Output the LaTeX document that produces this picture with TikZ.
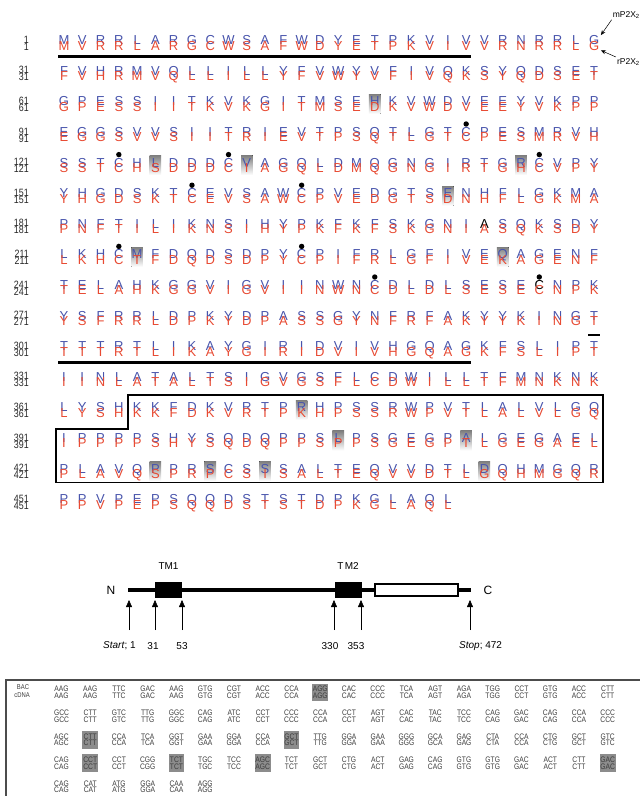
\documentclass[tikz,border=0pt]{standalone}
\usepackage{fontspec}
\setmainfont{Liberation Sans}
\newfontfamily\narrowsans[FakeStretch=0.84]{Liberation Sans}
\usetikzlibrary{arrows.meta}

\definecolor{mblue}{RGB}{72,84,172}
\definecolor{rred}{RGB}{232,74,50}
\definecolor{shade}{RGB}{172,172,172}
\definecolor{cdngray}{RGB}{60,60,60}

\tikzset{
  res/.style={inner sep=0pt, text height=9.3pt, text depth=0pt, font=\fontsize{13}{13}\selectfont},
  mres/.style={res, text=mblue},
  rres/.style={res, text=rred, yshift=-5.5pt},
  num/.style={inner sep=0pt, anchor=east, text height=7.6pt, text depth=0pt, text=black!85,
    font=\narrowsans\fontsize{10.6}{10.6}\selectfont},
  codon/.style={inner sep=0pt, text height=5.8pt, text depth=0pt, text=cdngray,
    font=\narrowsans\fontsize{8}{8}\selectfont},
  lab/.style={inner sep=1pt, font=\fontsize{8.5}{8.5}\selectfont},
  ptr/.style={-{Stealth[length=5pt,width=4pt]}, line width=0.5pt},
  uparrow/.style={-{Triangle[length=7pt,width=6pt]}, line width=0.5pt},
  tmbox/.style={fill=black, inner sep=0pt, minimum width=27pt, minimum height=16pt},
  dlab/.style={inner sep=1pt, font=\fontsize{10}{10}\selectfont}
}

\newcount\sqcol
\makeatletter
\newcommand\putseq[4]{%
  \sqcol=0
  \edef\sq@s{#4}%
  \expandafter\sq@run\expandafter{\sq@s}{#1}{#2}{#3}}
\newcommand\sq@run[4]{%
  \@tfor\sq@ch:=#1\do{%
    \advance\sqcol by 1
    \if\sq@ch.\else
      \node[#3] (#4#2-\the\sqcol) at ({colx(\the\sqcol)},{rowy(#2)}) {\sq@ch};%
    \fi}}
\makeatother

\def\seqdata{%
  0/MVRRLARGCWSAFWDYETPKVIVVRNRRLG/MVRRLARGCWSAFWDYETPKVIVVRNRRLG,
  1/FVHRMVQLLILLYFVWYVFIVQKSYQDSET/FVHRMVQLLILLYFVWYVFIVQKSYQDSET,
  2/GPESSIITKVKGITMSEHKVWDVEEYVKPP/GPESSIITKVKGITMSEDKVWDVEEYVKPP,
  3/EGGSVVSIITRIEVTPSQTLGTCPESMRVH/EGGSVVSIITRIEVTPSQTLGTCPESMRVH,
  4/SSTCHLDDDCVAGQLDMQGNGIRTGRCVPY/SSTCHSDDDCIAGQLDMQGNGIRTGHCVPY,
  5/YHGDSKTCEVSAWCPVEDGTSENHFLGKMA/YHGDSKTCEVSAWCPVEDGTSDNHFLGKMA,
  6/PNFTILIKNSIHYPKFKFSKGNI.SQKSDY/PNFTILIKNSIHYPKFKFSKGNIASQKSDY,
  7/LKHCMFDQDSDPYCPIFRLGFIVEQAGENF/LKHCTFDQDSDPYCPIFRLGFIVEKAGENF,
  8/TELAHKGGVIGVIINWNCDLDLSESE.NPK/TELAHKGGVIGVIINWNCDLDLSESECNPK,
  9/YSFRRLDPKYDPASSGYNFRFAKYYKINGT/YSFRRLDPKYDPASSGYNFRFAKYYKINGT,
  10/TTTRTLIKAYGIRIDVIVHGQAGKFSLIPT/TTTRTLIKAYGIRIDVIVHGQAGKFSLIPT,
  11/IINLATALTSIGVGSFLCDWILLTFMNKNK/IINLATALTSIGVGSFLCDWILLTFMNKNK,
  12/LYSHKKFDKVRTPRHPSSRWPVTLALVLGQ/LYSHKKFDKVRTPKHPSSRWPVTLALVLGQ,
  13/IPPPPSHYSQDQPPSLPSGEGPALGEGAEL/IPPPPSHYSQDQPPSPPSGEGPTLGEGAEL,
  14/PLAVQPPRSCSSSALTEQVVDTLDQHMGQR/PLAVQSPRPCSISALTEQVVDTLGQHMGQR,
  15/PPVPEPSQQDSTSTDPKGLAQL/PPVPEPSQQDSTSTDPKGLAQL}

\def\codondata{%
  0/{AAG,AAG,TTC,GAC,AAG,GTG,CGT,ACC,CCA,AGG,CAC,CCC,TCA,AGT,AGA,TGG,CCT,GTG,ACC,CTT},
  1/{GCC,CTT,GTC,TTG,GGC,CAG,ATC,CCT,CCC,CCA,CCT,AGT,CAC,TAC,TCC,CAG,GAC,CAG,CCA,CCC},
  2/{AGC,CTT,CCA,TCA,GGT,GAA,GGA,CCA,GCT,TTG,GGA,GAA,GGG,GCA,GAG,CTA,CCA,CTG,GCT,GTC},
  3/{CAG,CCT,CCT,CGG,TCT,TGC,TCC,AGC,TCT,GCT,CTG,ACT,GAG,CAG,GTG,GTG,GAC,ACT,CTT,GAC},
  4/{CAG,CAT,ATG,GGA,CAA,AGG}}

\begin{document}
\begin{tikzpicture}[x=1pt, y=-1pt,
  declare function={colx(\c)=64+18.28*(\c-1); rowy(\k)=40+30.6*\k;
                    cdx(\j)=61.5+28.75*(\j-1); cdy(\r)=689+23.6*\r;}]
\fill[white] (0,0) rectangle (640,796);
\useasboundingbox (0,0) rectangle (640,796);

\foreach \k/\c in {2/18,4/6,4/11,4/26,5/22,7/5,7/25,12/14,13/16,13/23,14/6,14/9,14/12,14/24}
  \fill[shade] ({colx(\c)-5.8},{rowy(\k)-7}) rectangle ++(11.6,19.6);

\foreach \k/\ms/\rs in \seqdata {\putseq{\k}{mres}{m}{\ms}}
\node[mres, text=black] (m6-24) at ({colx(24)},{rowy(6)}) {A};
\node[mres, text=black] (m8-27) at ({colx(27)},{rowy(8)}) {C};
\foreach \k/\ms/\rs in \seqdata {\putseq{\k}{rres}{r}{\rs}}

\foreach \k in {0,...,15} {
  \pgfmathtruncatemacro\n{30*\k+1}
  \node[num] (nm\k) at (29,{rowy(\k)-0.6}) {\n};
  \node[num] (nr\k) at (29,{rowy(\k)+6.4}) {\n};
}

\foreach \k/\c in {3/23,4/4,4/10,4/27,5/8,5/14,7/4,7/14,8/18,8/27}
  \fill ([yshift=7.8pt]m\k-\c.center) circle (2.7pt);

\draw[line width=3pt] ([xshift=-6pt,yshift=-6pt]r0-1.south) -- ([xshift=5pt,yshift=-6pt]r0-23.south);
\draw[line width=3pt] ([xshift=-6pt,yshift=-6pt]r10-1.south) -- ([xshift=5pt,yshift=-6pt]r10-23.south);
\draw[line width=2.5pt] ([xshift=-6pt,yshift=-9pt]r9-30.south) -- ([xshift=6pt,yshift=-9pt]r9-30.south);

\draw[line width=1.6pt] ({colx(4.5)},{rowy(12)-12}) -- ({colx(30)+9},{rowy(12)-12})
  -- ({colx(30)+9},{rowy(14)+14}) -- ({colx(1)-8},{rowy(14)+14})
  -- ({colx(1)-8},{rowy(12)+22}) -- ({colx(4.5)},{rowy(12)+22}) -- cycle;

\node[lab, anchor=north east] (mlab) at (641,10) {mP2X\textsubscript{2}};
\node[lab, anchor=north east] (rlab) at (641,57) {rP2X\textsubscript{2}};
\draw[ptr] (mlab.south west) -- ([xshift=1.5pt]m0-30.north east);
\draw[ptr] (rlab.north west) -- ([xshift=1.5pt]r0-30.south east);

% protein layout
\coordinate (bbs) at (128,590);
\coordinate (bbe) at (471,590);
\draw[line width=4pt] (bbs) -- (bbe);
\node[tmbox] (tm1) at (168.5,590) {};
\node[tmbox] (tm2) at (348,590) {};
\node[draw, fill=white, line width=1.2pt, inner sep=0pt, minimum width=83pt, minimum height=12pt] (cbox) at (416.5,590) {};
\node[dlab, font=\fontsize{12}{12}\selectfont] (nterm) at (111,590) {N};
\node[dlab, font=\fontsize{12}{12}\selectfont] (cterm) at (488,590) {C};
\node[dlab] (tm1lab) at (168.5,566) {TM1};
\node[dlab] (tm2lab) at (348,566) {T\kern1.5pt M2};

\foreach \i/\x in {1/129,2/155,3/182,4/334,5/361,6/470} {
  \coordinate (tail\i) at (\x,630);
  \coordinate (tip\i) at (\x,600);
  \draw[uparrow] (tail\i) -- (tip\i);
}
\node[dlab, anchor=east] (startlab) at (137,646) {\textit{Start}; 1};
\node[dlab] (lab31) at (153,646) {31};
\node[dlab] (lab53) at (182,646) {53};
\node[dlab] (lab330) at (330,646) {330};
\node[dlab] (lab353) at (356,646) {353};
\node[dlab, anchor=west] (stoplab) at (458,646) {\textit{Stop}; 472};

% BAC / cDNA
\draw[line width=1.3pt, black!70] (6,680) rectangle (660,820);
\node[codon, font=\narrowsans\fontsize{7}{7}\selectfont] (baclab) at (23,687) {BAC};
\node[codon, font=\narrowsans\fontsize{7}{7}\selectfont] (cdnalab) at (22,695) {cDNA};
\foreach \r/\j in {0/10,2/2,2/9,3/2,3/5,3/8,3/20}
  \fill[black!45] ({cdx(\j)-7.8},{cdy(\r)-5.5}) rectangle ++(15.6,17.8);
\foreach \r/\cl in \codondata {
  \foreach \cd [count=\j] in \cl {
    \node[codon] (bac\r-\j) at ({cdx(\j)},{cdy(\r)}) {\cd};
    \node[codon] (cdna\r-\j) at ({cdx(\j)},{cdy(\r)+6.6}) {\cd};
  }
}
\end{tikzpicture}
\end{document}
